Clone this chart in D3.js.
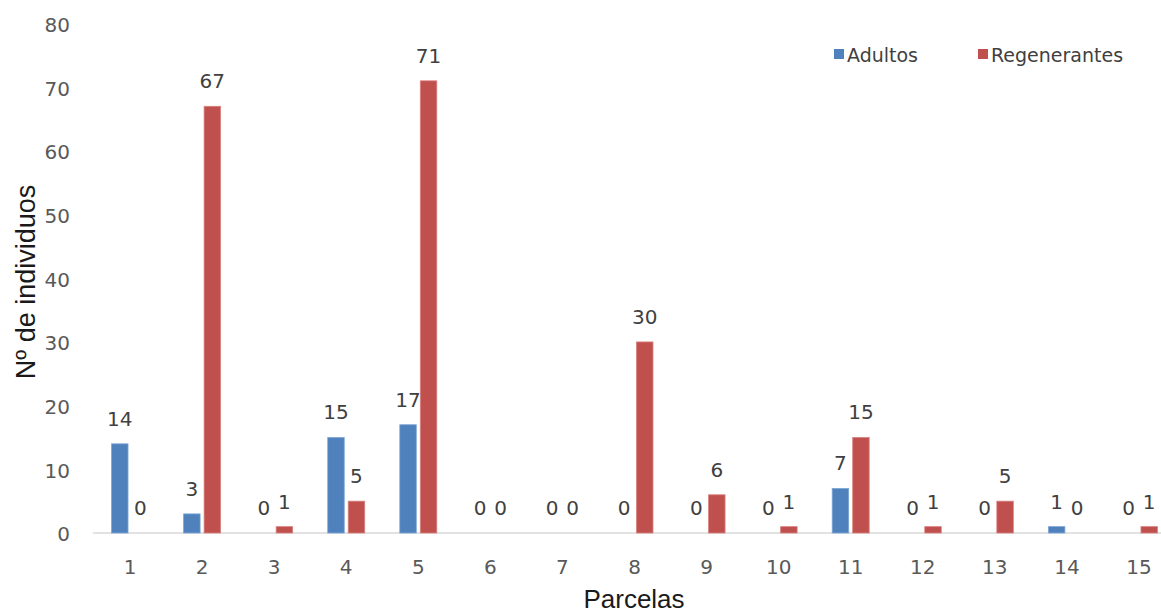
<!DOCTYPE html>
<html>
<head>
<meta charset="utf-8">
<script src="https://cdn.jsdelivr.net/npm/d3@7"></script>
<style>
  html, body { margin: 0; padding: 0; background: #ffffff; }
  svg { display: block; }
</style>
</head>
<body>
<svg id="chart" width="1161" height="614"></svg>
<script>
// Number of individuals per plot (parcela)
const categories = ["1", "2", "3", "4", "5", "6", "7", "8", "9", "10", "11", "12", "13", "14", "15"];
const seriesNames = ["Adultos", "Regenerantes"];
const adultos = [14, 3, 0, 15, 17, 0, 0, 0, 0, 0, 7, 0, 0, 1, 0];
const regenerantes = [0, 67, 1, 5, 71, 0, 0, 30, 6, 1, 15, 1, 5, 0, 1];
const yTicks = [0, 10, 20, 30, 40, 50, 60, 70, 80];

const colors = { Adultos: "#4F81BD", Regenerantes: "#C0504D" };
const numFont = "'DejaVu Sans', sans-serif";
const titleFont = "'Liberation Sans', Arial, sans-serif";

const rows = categories.map((c, i) => ({
  cat: c,
  values: [
    { key: "Adultos", value: adultos[i] },
    { key: "Regenerantes", value: regenerantes[i] }
  ]
}));

const svg = d3.select("#chart");

const x = d3.scaleBand().domain(categories).range([94, 1175]).paddingInner(0).paddingOuter(0);
const step = x.step();
const xs = d3.scaleBand().domain(seriesNames)
  .range([step / 2 - 18.5, step / 2 + 18.5])
  .paddingInner(4 / 20.5).paddingOuter(0);
const y = d3.scaleLinear().domain([0, 80]).range([533, 23.5]);

// Y axis labels (no line, no ticks)
const yAxis = svg.append("g")
  .attr("transform", "translate(73,1.5)")
  .call(d3.axisLeft(y).tickValues(yTicks).tickSize(0).tickPadding(3));
yAxis.select(".domain").remove();
yAxis.selectAll("text")
  .attr("font-family", numFont)
  .attr("font-size", 20)
  .attr("fill", "#595959");

// X axis with light baseline
const xAxis = svg.append("g")
  .attr("transform", `translate(0,${y(0)})`)
  .call(d3.axisBottom(x).tickSize(0).tickPadding(27));
xAxis.select(".domain")
  .attr("stroke", "#D9D9D9")
  .attr("stroke-width", 1.5)
  .attr("d", `M93,0H1161`);
xAxis.selectAll("text")
  .attr("font-family", numFont)
  .attr("font-size", 20)
  .attr("fill", "#595959");

// Bars
const groups = svg.append("g").selectAll("g")
  .data(rows)
  .join("g")
  .attr("transform", d => `translate(${x(d.cat)},0)`);

groups.selectAll("rect")
  .data(d => d.values)
  .join("rect")
  .attr("x", d => xs(d.key))
  .attr("width", xs.bandwidth())
  .attr("y", d => y(d.value))
  .attr("height", d => y(0) - y(d.value))
  .attr("fill", d => colors[d.key])
  .attr("stroke", d => d.key === "Adultos" ? "#7EA6D6" : "#D98280")
  .attr("stroke-width", d => d.value > 0 ? 0.8 : 0);

// Value labels
groups.selectAll("text")
  .data(d => d.values)
  .join("text")
  .attr("x", d => xs(d.key) + xs.bandwidth() / 2)
  .attr("y", d => y(d.value) - 18)
  .attr("text-anchor", "middle")
  .attr("font-family", numFont)
  .attr("font-size", 20)
  .attr("fill", "#404040")
  .text(d => d.value);

// Axis titles
svg.append("text")
  .attr("x", 634)
  .attr("y", 608)
  .attr("text-anchor", "middle")
  .attr("font-family", titleFont)
  .attr("font-size", 26)
  .attr("fill", "#1a1a1a")
  .text("Parcelas");

svg.append("text")
  .attr("transform", "translate(35,282) rotate(-90)")
  .attr("text-anchor", "middle")
  .attr("font-family", titleFont)
  .attr("font-size", 27)
  .attr("fill", "#1a1a1a")
  .text("Nº de individuos");

// Legend
const legendX = d3.scaleOrdinal().domain(seriesNames).range([834, 978]);
const legend = svg.append("g").selectAll("g")
  .data(seriesNames)
  .join("g")
  .attr("transform", d => `translate(${legendX(d)},49)`);
legend.append("rect")
  .attr("width", 10)
  .attr("height", 10)
  .attr("fill", d => colors[d]);
legend.append("text")
  .attr("x", 13)
  .attr("y", 12.5)
  .attr("font-family", numFont)
  .attr("font-size", 19)
  .attr("fill", "#404040")
  .text(d => d);
</script>
</body>
</html>
